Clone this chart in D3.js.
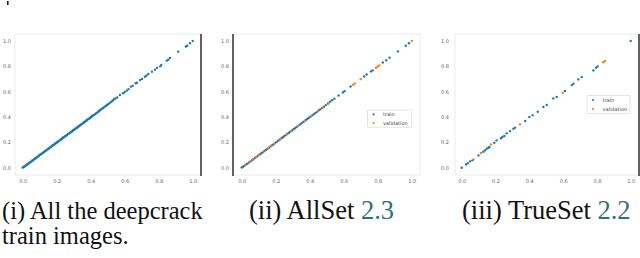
<!DOCTYPE html>
<html><head><meta charset="utf-8">
<script src="https://cdn.jsdelivr.net/npm/d3@7"></script>
<style>body{margin:0;background:#fff;}svg{display:block;}</style>
</head><body>
<svg id="c" width="640" height="258"></svg>
<script>
const ticks = [0.0, 0.2, 0.4, 0.6, 0.8, 1.0];
const tickLabels = ["0.0","0.2","0.4","0.6","0.8","1.0"];
const legendLabels = ["train","validation"];
const captions = [["(i) All the deepcrack","train images."],["(ii) AllSet ","2.3"],["(iii) TrueSet ","2.2"]];

const p1 = [[0.000,0.002],[0.006,0.005],[0.011,0.012],[0.015,0.013],[0.021,0.020],[0.026,0.027],[0.030,0.028],[0.036,0.035],[0.041,0.042],[0.045,0.043],[0.051,0.050],[0.056,0.057],[0.060,0.058],[0.066,0.064],[0.071,0.072],[0.075,0.073],[0.081,0.079],[0.086,0.087],[0.091,0.089],[0.096,0.095],[0.101,0.102],[0.106,0.104],[0.111,0.109],[0.116,0.117],[0.121,0.119],[0.126,0.124],[0.131,0.132],[0.136,0.134],[0.141,0.139],[0.146,0.147],[0.151,0.148],[0.156,0.154],[0.161,0.162],[0.166,0.163],[0.171,0.169],[0.176,0.177],[0.181,0.178],[0.186,0.184],[0.191,0.192],[0.196,0.193],[0.201,0.199],[0.206,0.206],[0.211,0.208],[0.216,0.214],[0.221,0.221],[0.226,0.223],[0.231,0.229],[0.236,0.236],[0.241,0.238],[0.246,0.244],[0.251,0.251],[0.256,0.253],[0.261,0.258],[0.266,0.266],[0.271,0.267],[0.276,0.273],[0.281,0.280],[0.286,0.282],[0.291,0.288],[0.296,0.295],[0.301,0.297],[0.306,0.303],[0.311,0.310],[0.316,0.312],[0.321,0.318],[0.326,0.325],[0.331,0.327],[0.336,0.333],[0.341,0.340],[0.346,0.342],[0.351,0.348],[0.356,0.355],[0.361,0.357],[0.366,0.363],[0.371,0.370],[0.376,0.372],[0.381,0.378],[0.386,0.385],[0.391,0.387],[0.396,0.393],[0.401,0.400],[0.406,0.402],[0.411,0.408],[0.416,0.415],[0.421,0.417],[0.427,0.424],[0.433,0.431],[0.438,0.435],[0.444,0.442],[0.450,0.448],[0.455,0.455],[0.462,0.460],[0.468,0.467],[0.474,0.472],[0.481,0.480],[0.487,0.486],[0.494,0.493],[0.500,0.499],[0.508,0.507],[0.515,0.514],[0.523,0.522],[0.530,0.530],[0.537,0.540],[0.545,0.546],[0.556,0.555],
[0.572,0.574],[0.590,0.588],[0.600,0.598],[0.612,0.608],[0.622,0.620],[0.637,0.640],[0.647,0.646],[0.665,0.666],[0.672,0.670],[0.690,0.692],[0.702,0.700],[0.719,0.718],[0.728,0.728],[0.739,0.740],[0.760,0.758],[0.778,0.774],[0.790,0.788],[0.808,0.800],[0.815,0.810],[0.847,0.845],[0.856,0.852],[0.866,0.866],[0.915,0.916],[0.960,0.956],[0.968,0.963],[0.984,0.982],[1.000,1.000]];

const p2train = [[0.000,0.001],[0.008,0.007],[0.016,0.015],[0.026,0.025],[0.034,0.032],[0.044,0.043],[0.052,0.050],[0.062,0.061],[0.070,0.068],[0.079,0.078],[0.088,0.086],[0.097,0.096],[0.106,0.104],[0.115,0.114],[0.124,0.122],[0.133,0.132],[0.142,0.140],[0.151,0.150],[0.160,0.158],[0.170,0.168],[0.179,0.178],[0.188,0.186],[0.197,0.196],[0.206,0.204],[0.215,0.214],[0.224,0.222],[0.233,0.232],[0.242,0.240],[0.251,0.250],[0.260,0.258],[0.269,0.268],[0.278,0.276],[0.287,0.286],[0.296,0.294],[0.305,0.304],[0.314,0.312],[0.323,0.322],[0.332,0.330],[0.341,0.340],[0.350,0.348],[0.359,0.358],[0.368,0.366],[0.377,0.376],[0.386,0.384],[0.395,0.394],[0.405,0.403],[0.414,0.413],[0.423,0.421],[0.432,0.431],[0.441,0.439],[0.452,0.451],[0.462,0.460],[0.473,0.472],[0.484,0.482],[0.495,0.494],[0.508,0.507],[0.520,0.520],[0.532,0.533],[0.545,0.545],[0.570,0.570],[0.595,0.594],[0.605,0.604],[0.640,0.641],[0.720,0.720],[0.735,0.736],[0.760,0.760],[0.770,0.768],[0.830,0.830],[0.850,0.848],[0.870,0.868],[0.919,0.918],[0.965,0.962],[0.984,0.982]];
const p2val = [[0.020,0.019],[0.047,0.046],[0.066,0.064],[0.084,0.083],[0.101,0.100],[0.128,0.127],[0.156,0.155],[0.175,0.174],[0.192,0.191],[0.228,0.227],[0.264,0.263],[0.292,0.291],[0.330,0.329],[0.372,0.371],[0.410,0.409],[0.446,0.445],[0.478,0.477],[0.512,0.512],[0.655,0.654],[0.665,0.665],[0.700,0.699],[0.790,0.789],[0.800,0.799],[0.810,0.808],[1.000,1.000]];

const p3train = [[0.000,0.000],[0.026,0.026],[0.036,0.036],[0.049,0.050],[0.063,0.058],[0.099,0.097],[0.128,0.126],[0.138,0.137],[0.148,0.150],[0.158,0.158],[0.164,0.163],[0.193,0.197],[0.207,0.216],[0.233,0.232],[0.241,0.242],[0.252,0.250],[0.266,0.271],[0.286,0.289],[0.306,0.308],[0.316,0.316],[0.375,0.368],[0.400,0.400],[0.420,0.413],[0.450,0.442],[0.483,0.479],[0.503,0.495],[0.542,0.547],[0.562,0.558],[0.611,0.605],[0.651,0.652],[0.661,0.663],[0.690,0.697],[0.710,0.716],[0.779,0.768],[0.795,0.789],[0.805,0.800],[1.000,1.000]];
const p3val = [[0.069,0.066],[0.114,0.116],[0.174,0.184],[0.345,0.342],[0.598,0.592],[0.838,0.832],[0.848,0.842]];

const BLUE = "#1f77b4", ORANGE = "#ff7f0e";
const svg = d3.select("#c");

const panels = [
  {frame:[15,34,201,175], xr:[22.7,192.7], ylabX:11, series:[[p1,BLUE]], legend:null, blackX:201},
  {frame:[233,34,420,175], xr:[241.7,411.7], ylabX:229, series:[[p2train,BLUE],[p2val,ORANGE]], legend:[367.5,110,411.5,127.3], blackX:233},
  {frame:[455,34,639,175], xr:[461.7,630.7], ylabX:449, series:[[p3train,BLUE],[p3val,ORANGE]], legend:[587,95.5,630,113.5], blackX:639}
];

panels.forEach(p => {
  const [l,t,r,b] = p.frame;
  const x = d3.scaleLinear().domain([0,1]).range(p.xr);
  const y = d3.scaleLinear().domain([0,1]).range([167.7,41]);
  const g = svg.append("g");
  g.append("rect").attr("x",l).attr("y",t).attr("width",r-l).attr("height",b-t)
    .attr("fill","#fff").attr("stroke","#ececec").attr("stroke-width",1);
  const xa = d3.axisBottom(x).tickValues(ticks).tickFormat((d,i)=>tickLabels[i]).tickSize(0).tickPadding(4);
  const ya = d3.axisLeft(y).tickValues(ticks).tickFormat((d,i)=>tickLabels[i]).tickSize(0).tickPadding(0);
  const gx = g.append("g").attr("transform",`translate(0,${b})`).call(xa);
  const gy = g.append("g").attr("transform",`translate(${p.ylabX},0)`).call(ya);
  [gx,gy].forEach(a=>{
    a.select(".domain").remove();
    a.selectAll("text").attr("font-family","DejaVu Sans").attr("font-size",5).attr("fill","#666");
  });
  p.series.forEach(([data,col]) => {
    g.append("g").selectAll("circle").data(data).join("circle")
      .attr("cx",d=>x(d[0])).attr("cy",d=>y(d[1])).attr("r",1.2).attr("fill",col);
  });
  g.append("line").attr("x1",p.blackX).attr("x2",p.blackX).attr("y1",t).attr("y2",b+1)
    .attr("stroke","#111").attr("stroke-width",1.3);
  if (p.legend) {
    const [ll,lt,lr,lb] = p.legend;
    g.append("rect").attr("x",ll).attr("y",lt).attr("width",lr-ll).attr("height",lb-lt)
      .attr("fill","#fff").attr("stroke","#dcdcdc").attr("stroke-width",0.8).attr("rx",1);
    const rowH = (lb-lt)/2;
    legendLabels.forEach((lab,i)=>{
      const cy = lt + rowH*(i+0.5);
      g.append("circle").attr("cx",ll+6).attr("cy",cy).attr("r",1.1).attr("fill",i===0?BLUE:ORANGE);
      g.append("text").attr("x",ll+15.5).attr("y",cy).attr("dy","0.35em")
        .attr("font-family","DejaVu Sans").attr("font-size",5).attr("fill","#444").text(lab);
    });
  }
});

svg.append("rect").attr("x",7).attr("y",1).attr("width",1.6).attr("height",4).attr("fill","#222");

function cap(xp, yp, size, parts){
  const t = svg.append("text").attr("x",xp).attr("y",yp)
    .attr("font-family","Liberation Serif").attr("font-size",size);
  parts.forEach(([s,col])=>t.append("tspan").attr("fill",col).text(s));
}
cap(2, 219, 24.5, [[captions[0][0],"#111"]]);
cap(2, 244, 24.5, [[captions[0][1],"#111"]]);
cap(249, 219, 26.5, [[captions[1][0],"#111"],[captions[1][1],"#2f6f7a"]]);
cap(462, 219, 26.5, [[captions[2][0],"#111"],[captions[2][1],"#2f6f7a"]]);
</script>
</body></html>
